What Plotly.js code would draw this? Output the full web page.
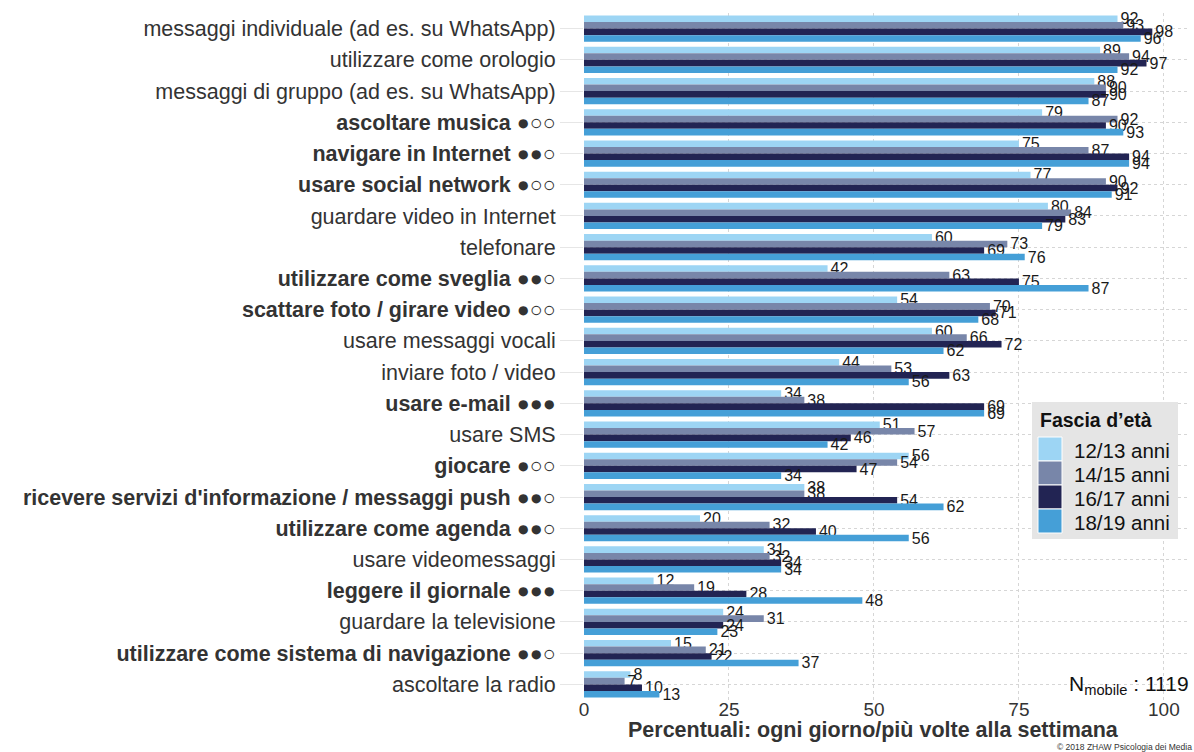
<!DOCTYPE html>
<html>
<head>
<meta charset="utf-8">
<script src="https://cdn.plot.ly/plotly-3.0.1.min.js"></script>
<style>
  html, body { margin: 0; padding: 0; background: #fff; }
  #chart { width: 1194px; height: 752px; }
</style>
</head>
<body>
<div id="chart"></div>
<script>
// Smartphone activities, share using them daily / several times a week, by age group
const activities = [
  "messaggi individuale (ad es. su WhatsApp)",
  "utilizzare come orologio",
  "messaggi di gruppo (ad es. su WhatsApp)",
  "ascoltare musica",
  "navigare in Internet",
  "usare social network",
  "guardare video in Internet",
  "telefonare",
  "utilizzare come sveglia",
  "scattare foto / girare video",
  "usare messaggi vocali",
  "inviare foto / video",
  "usare e-mail",
  "usare SMS",
  "giocare",
  "ricevere servizi d'informazione / messaggi push",
  "utilizzare come agenda",
  "usare videomessaggi",
  "leggere il giornale",
  "guardare la televisione",
  "utilizzare come sistema di navigazione",
  "ascoltare la radio"
];

// significance markers ("" = no significant age difference, label drawn regular)
const significance = [
  "", "", "", "●○○", "●●○", "●○○", "", "", "●●○", "●○○", "",
  "", "●●●", "", "●○○", "●●○", "●●○", "", "●●●", "", "●●○", ""
];

const ageGroups = ["12/13 anni", "14/15 anni", "16/17 anni", "18/19 anni"];

const age12_13 = [92, 89, 88, 79, 75, 77, 80, 60, 42, 54, 60, 44, 34, 51, 56, 38, 20, 31, 12, 24, 15, 8];
const age14_15 = [93, 94, 90, 92, 87, 90, 84, 73, 63, 70, 66, 53, 38, 57, 54, 38, 32, 32, 19, 31, 21, 7];
const age16_17 = [98, 97, 90, 90, 94, 92, 83, 69, 75, 71, 72, 63, 69, 46, 47, 54, 40, 34, 28, 24, 22, 10];
const age18_19 = [96, 92, 87, 93, 94, 91, 79, 76, 87, 68, 62, 56, 69, 42, 34, 62, 56, 34, 48, 23, 37, 13];

const xTicks = [0, 25, 50, 75, 100];
const sampleSize = 1119;

const seriesValues = [age12_13, age14_15, age16_17, age18_19];
const colors = ["#9DD5F4", "#7886A9", "#222453", "#459FD7"];

const FONT = "Liberation Sans, Arial, sans-serif";
const W = 1194, H = 752;
const M = { l: 584, r: 4, t: 13, b: 52 };

// pixel position -> paper fraction, for the legend box and notes
const px = v => (v - M.l) / (W - M.l - M.r);
const py = v => 1 - (v - M.t) / (H - M.t - M.b);

const tickText = activities.map((a, i) =>
  significance[i] ? "<b>" + a + " " + significance[i] + "</b>" : a
);

const traces = seriesValues.map((vals, k) => ({
  type: "bar",
  orientation: "h",
  name: ageGroups[k],
  x: vals,
  y: activities,
  marker: { color: colors[k], line: { width: 0 } },
  text: vals.map(String),
  textposition: "outside",
  constraintext: "none",
  cliponaxis: false,
  textfont: { family: FONT, size: 16, color: "#1a1a1a" },
  showlegend: false
}));

// legend: grey panel, title, colour squares and age-group labels
const shapes = [{
  type: "rect", xref: "paper", yref: "paper", layer: "above",
  x0: px(1032), x1: px(1178), y0: py(539), y1: py(402),
  fillcolor: "#e5e5e5", line: { width: 0 }
}];
const annotations = [{
  text: "<b>Fascia d’età</b>", xref: "paper", yref: "paper",
  x: px(1038), y: py(420), xanchor: "left", yanchor: "middle", showarrow: false,
  font: { family: FONT, size: 19.5, color: "#111" }
}];
ageGroups.forEach((g, k) => {
  shapes.push({
    type: "rect", xref: "paper", yref: "paper", layer: "above",
    x0: px(1038), x1: px(1062), y0: py(461 + 24 * k), y1: py(437 + 24 * k),
    fillcolor: colors[k], line: { color: "#ffffff", width: 1 }
  });
  annotations.push({
    text: g, xref: "paper", yref: "paper",
    x: px(1072), y: py(450 + 24 * k), xanchor: "left", yanchor: "middle", showarrow: false,
    font: { family: FONT, size: 20.5, color: "#111" }
  });
});

annotations.push(
  {
    text: "<b>Percentuali: ogni giorno/più volte alla settimana</b>",
    xref: "x", yref: "paper", x: 50, y: py(730),
    xanchor: "center", yanchor: "middle", showarrow: false,
    font: { family: FONT, size: 21.5, color: "#333" }
  },
  {
    text: "N<sub>mobile</sub> : " + sampleSize,
    xref: "paper", yref: "paper", x: px(1191), y: py(685),
    xanchor: "right", yanchor: "middle", showarrow: false,
    font: { family: FONT, size: 21, color: "#111" }
  },
  {
    text: "© 2018 ZHAW Psicologia dei Media",
    xref: "paper", yref: "paper", x: px(1194), y: py(747),
    xanchor: "right", yanchor: "middle", showarrow: false,
    font: { family: FONT, size: 8.5, color: "#333" }
  }
);

const layout = {
  width: W,
  height: H,
  paper_bgcolor: "#ffffff",
  plot_bgcolor: "#ffffff",
  font: { family: FONT, color: "#333333" },
  margin: M,
  barmode: "group",
  bargap: 0.16,
  bargroupgap: 0,
  showlegend: false,
  xaxis: {
    range: [0, 104.5],
    tickvals: xTicks,
    ticktext: xTicks.map(String),
    tickfont: { size: 19, color: "#333" },
    ticklabelstandoff: -4,
    showgrid: true,
    gridcolor: "#d6d6d6",
    griddash: "dot",
    gridwidth: 1,
    zeroline: false,
    showline: false,
    ticks: "",
    fixedrange: true
  },
  yaxis: {
    type: "category",
    categoryorder: "array",
    categoryarray: activities,
    autorange: "reversed",
    tickvals: activities,
    ticktext: tickText,
    tickfont: { size: 21.5, color: "#333" },
    showgrid: true,
    gridcolor: "#d6d6d6",
    griddash: "dot",
    ticks: "outside",
    ticklen: 23,
    tickcolor: "#e6e6e6",
    showline: false,
    zeroline: false,
    fixedrange: true
  },
  shapes: shapes,
  annotations: annotations
};

Plotly.newPlot("chart", traces, layout, { displayModeBar: false, staticPlot: true });
</script>
</body>
</html>
